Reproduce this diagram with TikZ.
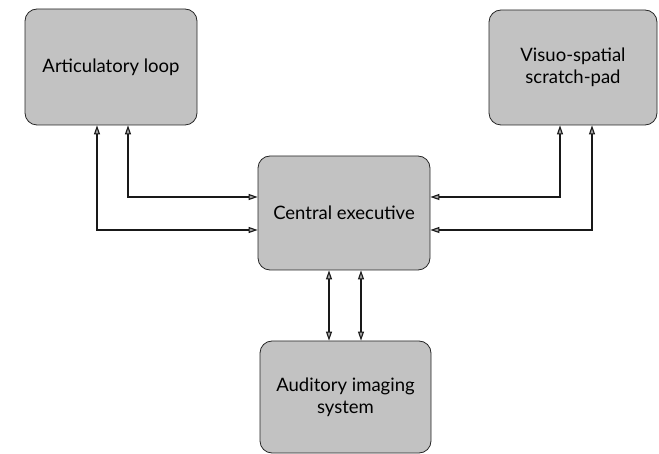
\documentclass[tikz,border=0pt]{standalone}
\usepackage{fontspec}
\setmainfont{Lato}
\usetikzlibrary{arrows.meta}
\begin{document}
\begin{tikzpicture}[x=1pt,y=-1pt,
  box/.style={draw=black!85, line width=0.8pt, fill=black!24, rounded corners=12pt,
    align=center, font=\fontsize{18.5}{22}\selectfont, inner sep=0pt},
  tip/.style={Triangle[length=9pt,width=6pt,fill=black!35]},
  link/.style={line width=1.1pt, {Triangle[length=9pt,width=6pt,fill=black!35]}-{Triangle[length=9pt,width=6pt,fill=black!35]}, black!90}]
\useasboundingbox (0,0) rectangle (659,454);
\node[box, minimum width=172pt, minimum height=116pt] (art) at (111,67) {Articulatory loop};
\node[box, minimum width=168pt, minimum height=115pt] (vis) at (573,67.5) {Visuo-spatial\\scratch-pad};
\node[box, minimum width=172pt, minimum height=114pt] (cen) at (344,213) {Central executive};
\node[box, minimum width=171pt, minimum height=112pt] (aud) at (345.5,397) {Auditory imaging\\system};
\draw[link] ([xshift=17pt]art.south) |- ([yshift=16pt]cen.west);
\draw[link] ([xshift=-14pt]art.south) |- ([yshift=-17pt]cen.west);
\draw[link] ([xshift=-13pt]vis.south) |- ([yshift=16pt]cen.east);
\draw[link] ([xshift=19pt]vis.south) |- ([yshift=-17pt]cen.east);
\draw[link] ([xshift=-15pt]cen.south) -- ([xshift=-15pt]cen.south |- aud.north);
\draw[link] ([xshift=17pt]cen.south) -- ([xshift=17pt]cen.south |- aud.north);
\end{tikzpicture}
\end{document}
